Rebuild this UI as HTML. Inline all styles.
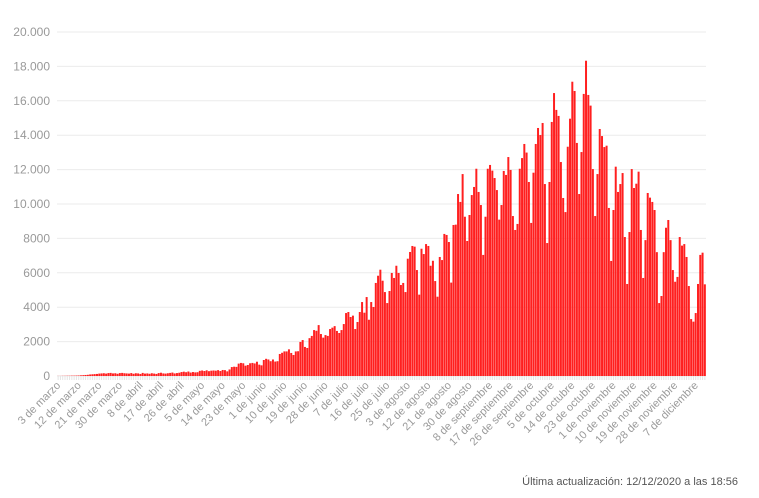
<!DOCTYPE html>
<html><head><meta charset="utf-8">
<style>
html,body{margin:0;padding:0;background:#fff;}
body{width:759px;height:493px;overflow:hidden;font-family:"Liberation Sans",sans-serif;}
svg text{font-family:"Liberation Sans",sans-serif;}
</style></head>
<body>
<svg id="chart" width="759" height="493" xmlns="http://www.w3.org/2000/svg">
<g id="grid"></g>
<g id="yaxis"></g>
<g id="ticks"></g>
<g id="bars"></g>
<g id="xaxis"></g>
<text x="738" y="485" text-anchor="end" font-size="11" fill="#555">Última actualización: 12/12/2020 a las 18:56</text>
</svg>
<script>
const yTicks = [0,2000,4000,6000,8000,10000,12000,14000,16000,18000,20000];
const yTickLabels = ["0","2000","4000","6000","8000","10.000","12.000","14.000","16.000","18.000","20.000"];
const xLabels = ["3 de marzo","12 de marzo","21 de marzo","30 de marzo","8 de abril","17 de abril","26 de abril","5 de mayo","14 de mayo","23 de mayo","1 de junio","10 de junio","19 de junio","28 de junio","7 de julio","16 de julio","25 de julio","3 de agosto","12 de agosto","21 de agosto","30 de agosto","8 de septiembre","17 de septiembre","26 de septiembre","5 de octubre","14 de octubre","23 de octubre","1 de noviembre","10 de noviembre","19 de noviembre","28 de noviembre","7 de diciembre"];
const casesMarApr = [5,5,10,10,15,15,20,20,25,30,40,50,60,70,90,100,110,120,140,150,160,140,170,180,150,160,130,170,180,160,150,140,170,130,160,150,120,180,140,150,130,160,140,120,170,190,150,140,160,180,200,150,170,190];
const casesMayJun = [230,250,220,260,200,230,210,220,300,320,290,330,280,310,320,310,340,290,350,340,270,380,520,540,530,720,760,740,600,640,740,760,730,830,660,620,930,1000,960,860,960,840,860,1280,1350,1430,1430,1550,1340,1220,1430,1440,1980,2090,1690,1630,2200];
const casesJulAug = [2330,2670,2630,2960,2440,2230,2380,2330,2730,2810,2900,2620,2500,2670,3020,3660,3720,3430,3510,2730,3140,3720,4300,3680,4590,3270,4300,4010,5410,5830,6180,5540,4880,4240,4940,5990,5700,6410,5990,5290,5410,4880,6820,7210,7560,7520,6160,4730,7400,7090,7670,7560,6410,6700,5520,4610,6920];
const casesAugOct = [6740,8260,8200,7790,5430,8780,8800,10580,10120,11740,9260,7850,9360,10520,10990,12050,10700,9940,7040,9260,12050,12270,11940,11510,10810,9090,9940,11920,11690,12730,11980,9300,8490,8840,12050,12670,13490,12990,11280,8900,11820,13490,14420,14010,14710,11160,7730,11280,14770,16450,15470,15120,12440,10350,9530,13330,14960];
const casesOctDec = [17110,16570,13550,10580,13020,16400,18330,16340,15720,12030,9300,11740,14360,13950,13310,13390,9770,6690,9650,12170,10700,11160,11800,8080,5350,8370,12030,10930,11180,11880,8490,5700,7900,10640,10370,10120,9650,7200,4240,4650,7200,8620,9070,7900,6160,5480,5760,8080,7580,7670,6920,5230,3310,3160,3660,5350,7040,7170,5330];
const cases = casesMarApr.concat(casesMayJun, casesJulAug, casesAugOct, casesOctDec);

const NS = "http://www.w3.org/2000/svg";
const X0 = 57, X1 = 706, Y0 = 376, Y1 = 32, YMAX = 20000;
const bw = (X1 - X0) / cases.length;
function xPos(i){ return X0 + i * bw; }
function yPos(v){ return Y0 - v / YMAX * (Y0 - Y1); }
function mk(tag, attrs){ const e = document.createElementNS(NS, tag); for (const k in attrs) e.setAttribute(k, attrs[k]); return e; }

const grid = document.getElementById('grid'), yaxis = document.getElementById('yaxis');
yTicks.forEach((v, i) => {
  const l = mk('line', {x1: X0, x2: X1, y1: yPos(v), y2: yPos(v), stroke: '#ebebeb', 'stroke-width': 1});
  
  
  grid.appendChild(l);
  const t = mk('text', {x: 50, y: yPos(v) + 4, 'text-anchor': 'end', 'font-size': 12, fill: '#999'});
  t.textContent = yTickLabels[i];
  
  
  yaxis.appendChild(t);
});

const ticks = document.getElementById('ticks'), bars = document.getElementById('bars');
cases.forEach((v, i) => {
  const tk = mk('line', {x1: xPos(i) + bw / 2, x2: xPos(i) + bw / 2, y1: Y0, y2: Y0 + 4, stroke: '#e4e4e4', 'stroke-width': 1});
  
  
  ticks.appendChild(tk);
  const r = mk('rect', {x: xPos(i) + 0.15, y: yPos(v), width: bw - 0.3, height: Y0 - yPos(v), fill: '#ff1f1f'});
  
  
  bars.appendChild(r);
});

const xaxis = document.getElementById('xaxis');
xLabels.forEach((s, j) => {
  const cx = xPos(j * 9) + bw / 2 + 3;
  const t = mk('text', {x: cx, y: Y0 + 10, 'text-anchor': 'end', 'font-size': 11, fill: '#9a9a9a', transform: 'rotate(-45 ' + cx + ' ' + (Y0 + 10) + ')'});
  t.textContent = s;
  
  
  xaxis.appendChild(t);
});
</script>
</body></html>
